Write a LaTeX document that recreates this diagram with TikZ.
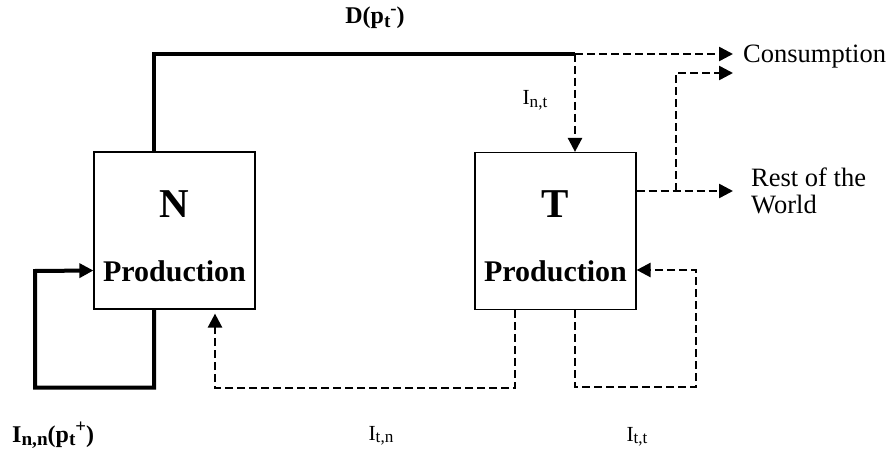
\documentclass[tikz,border=0pt]{standalone}
\usepackage{fontspec}
\setmainfont{Liberation Serif}
\usetikzlibrary{arrows.meta,positioning}

\newcommand{\idx}[1]{\raisebox{-0.3ex}{\scalebox{0.8}{#1}}}
\newcommand{\sgn}[1]{\raisebox{0.85ex}{\scalebox{0.78}{#1}}}

\begin{document}
\begin{tikzpicture} [
  x = 1pt, y = -1pt,
  box/.style = { draw, line width = 1.2pt, minimum width = 161pt, minimum height = 157pt, inner sep = 0 },
  sector/.style = { font = \fontsize{41}{43}\selectfont\bfseries, inner sep = 0 },
  prod/.style = { font = \fontsize{30}{32}\selectfont\bfseries, inner sep = 0 },
  flow/.style = { line width = 4pt },
  trade/.style = { line width = 2.5pt, dash pattern = on 8pt off 4pt },
  tip/.style = { -{Triangle[length=14pt,width=14pt]} },
  lbl/.style = { font = \fontsize{21.5}{23}\selectfont, inner sep = 0 },
  blbl/.style = { font = \fontsize{24}{26}\selectfont\bfseries, inner sep = 0 },
  dest/.style = { font = \fontsize{26.5}{27}\selectfont, align = left, inner sep = 0 }
  ]
  \useasboundingbox (0,0) rectangle (891,449);

  % the two sectors
  \node[box] (N) at (174.5,230.5) {};
  \node[box] (T) at (555.5,231) {};
  \node[sector] (Nname) at (174.5,204) {N};
  \node[prod] (Nprod) at (174.5,271) {Production};
  \node[sector] (Tname) at (555.5,204) {T};
  \node[prod] (Tprod) at (555.5,271) {Production};

  \coordinate (split) at (575,54);
  \coordinate (cons) at (733,54);
  \coordinate (cons2) at (733,73);
  \coordinate (world) at (733,191);
  \coordinate (branch) at (676,191);

  \node[dest, anchor = west] (Cons) at (743,57) {Consumption};
  \node[dest, anchor = west] (RoW) at (751,191) {Rest of the\\World};

  % flows
  \draw[flow] ([xshift=-20.5pt]N.north) |- (split);
  \draw[trade, tip] (split) -- (cons);
  \draw[trade, tip] (split) -- ([xshift=19.5pt]T.north);
  \draw[trade, tip] ([yshift=40pt]T.east) -- (world);
  \draw[trade, tip] (branch) |- (cons2);
  \draw[flow, tip] ([xshift=-20.5pt]N.south) -- ++(0,78) -| (35,271) -- ([yshift=-40pt]N.west);
  \draw[trade, tip] ([xshift=-40.5pt]T.south) -- ++(0,78) -| ([xshift=40.5pt,yshift=-4pt]N.south);
  \draw[trade, tip] ([xshift=19.5pt]T.south) -- ++(0,77) -| (696,270) -- ([yshift=-39pt]T.east);

  % labels
  \node[blbl] (demand) at (375,18) {D(p\idx{t}\sgn{-})};
  \node[lbl] (Int) at (535,100) {I\idx{n,t}};
  \node[blbl, anchor = base west] (Inn) at (12,442) {I\idx{n,n}(p\idx{t}\sgn{+})};
  \node[lbl, anchor = base] (Itn) at (381,440) {I\idx{t,n}};
  \node[lbl, anchor = base] (Itt) at (637,441) {I\idx{t,t}};
\end{tikzpicture}
\end{document}
